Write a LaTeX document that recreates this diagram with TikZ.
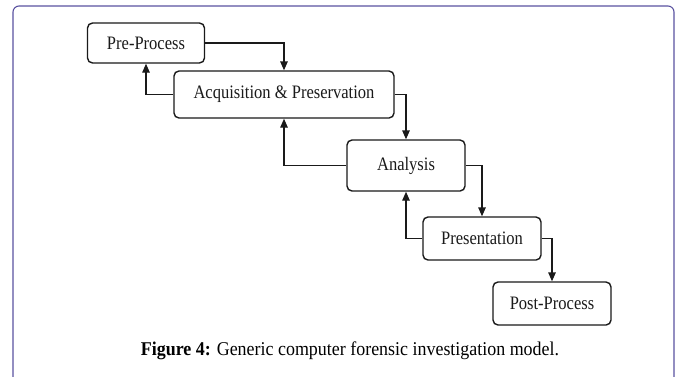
\documentclass[tikz,border=0pt]{standalone}
\usepackage{fontspec}
\setmainfont{Liberation Serif}
\newfontfamily\boxfont[FakeStretch=0.87]{Liberation Serif}
\newfontfamily\capfont[FakeStretch=0.92]{Liberation Serif}
\usepackage{xcolor}
\usepackage{tikz}
\usetikzlibrary{arrows.meta}
\definecolor{frame}{HTML}{5A52A0}
\definecolor{ink}{HTML}{1A1A1A}
\tikzset{
  stage/.style={draw=ink, rounded corners=5pt, line width=1.4pt, inner sep=0pt,
    font=\boxfont\fontsize{19}{21}\selectfont, text=ink},
  flow/.style={draw=ink, line width=1.4pt, -{Triangle[length=9pt,width=7.5pt]}},
  box/.style={draw=frame, line width=1.1pt, rounded corners=6pt},
  captext/.style={font=\capfont\fontsize{19.5}{21}\selectfont}
}

\begin{document}
\begin{tikzpicture}[x=1pt,y=-1pt]
  \useasboundingbox (0,0) rectangle (679,376);
  \fill[white] (0,0) rectangle (679,376);
  \draw[box] (13,6) rectangle (674,400);

  \coordinate (p1) at (146,43);
  \coordinate (p2) at (284,94.5);
  \coordinate (p3) at (406,165.5);
  \coordinate (p4) at (482,238.5);
  \coordinate (p5) at (552,303.5);

  \node[stage, minimum width=117pt, minimum height=40pt] (pre) at (p1) {Pre-Process};
  \node[stage, minimum width=220pt, minimum height=47pt] (acq) at (p2) {Acquisition \& Preservation};
  \node[stage, minimum width=118pt, minimum height=51pt] (ana) at (p3) {Analysis};
  \node[stage, minimum width=118pt, minimum height=43pt] (pres) at (p4) {Presentation};
  \node[stage, minimum width=118pt, minimum height=43pt] (post) at (p5) {Post-Process};

  % forward steps
  \draw[flow] (pre.east) -| (acq.north);
  \draw[flow] (acq.east) -| (ana.north);
  \draw[flow] (ana.east) -| (pres.north);
  \draw[flow] (pres.east) -| (post.north);

  % feedback
  \draw[flow] (acq.west) -| (pre.south);
  \draw[flow] (ana.west) -| (acq.south);
  \draw[flow] (pres.west) -| (ana.south);

  \node[captext] (caption) at (350,351) {\textbf{Figure 4:} Generic computer forensic investigation model.};
\end{tikzpicture}
\end{document}
